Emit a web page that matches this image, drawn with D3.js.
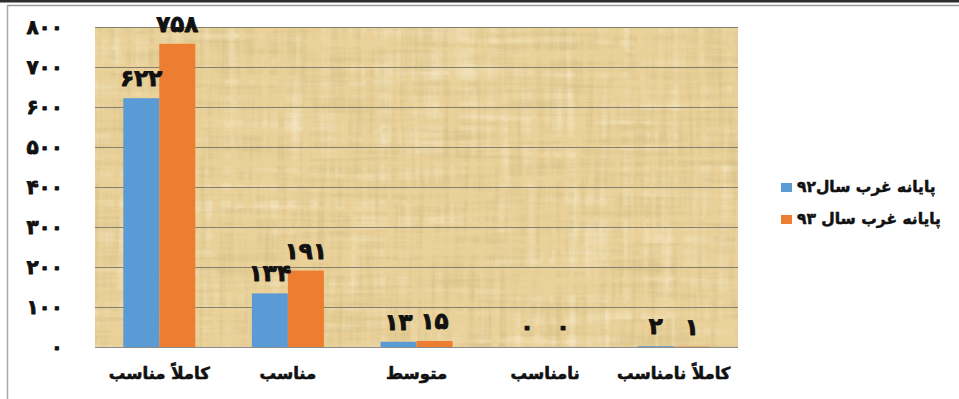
<!DOCTYPE html>
<html lang="fa">
<head>
<meta charset="utf-8">
<script src="https://cdn.jsdelivr.net/npm/d3@7/dist/d3.min.js"></script>
<style>
  html, body { margin: 0; padding: 0; background: #ffffff; }
  svg { display: block; }
  text { font-family: "DejaVu Sans", sans-serif; font-weight: bold; fill: #111; stroke: #111; stroke-linejoin: round; }
</style>
</head>
<body>
<svg id="chart" width="959" height="399"></svg>
<script>
// Categories (left to right) and the two series
const categories = ["کاملاً مناسب", "مناسب", "متوسط", "نامناسب", "کاملاً نامناسب"];
const seriesNames = ["پایانه غرب سال۹۲", "پایانه غرب سال ۹۳"];
const values92 = [622, 134, 13, 0, 2];
const values93 = [758, 191, 15, 0, 1];
const tickValues = [0, 100, 200, 300, 400, 500, 600, 700, 800];
const tickLabels = ["۰", "۱۰۰", "۲۰۰", "۳۰۰", "۴۰۰", "۵۰۰", "۶۰۰", "۷۰۰", "۸۰۰"];
const seriesColors = ["#5b9bd5", "#ed7d31"];

const toPersian = n => String(n).replace(/\d/g, d => "۰۱۲۳۴۵۶۷۸۹"[+d]);

const svg = d3.select("#chart");
const plot = { left: 95, right: 738, top: 27, bottom: 347 };

// Papyrus-like texture for the plot area: crossing fibre strips
const defs = svg.append("defs");
const f = defs.append("filter").attr("id", "papyrus")
  .attr("x", 0).attr("y", 0).attr("width", "100%").attr("height", "100%");
f.append("feTurbulence").attr("type", "fractalNoise")
  .attr("baseFrequency", "0.01 0.18").attr("numOctaves", 3).attr("seed", 4).attr("result", "h");
f.append("feTurbulence").attr("type", "fractalNoise")
  .attr("baseFrequency", "0.16 0.01").attr("numOctaves", 3).attr("seed", 9).attr("result", "v");
f.append("feComposite").attr("in", "h").attr("in2", "v")
  .attr("operator", "arithmetic").attr("k2", 0.5).attr("k3", 0.5).attr("result", "n");
f.append("feColorMatrix").attr("in", "n").attr("type", "matrix")
  .attr("values", "0 0 0 0 0.6  0 0 0 0 0.47  0 0 0 0 0.2  2.6 0 0 0 -1.15");
// lighter fibre strips
const g2 = defs.append("filter").attr("id", "papyrusLight")
  .attr("x", 0).attr("y", 0).attr("width", "100%").attr("height", "100%");
g2.append("feTurbulence").attr("type", "fractalNoise")
  .attr("baseFrequency", "0.006 0.09").attr("numOctaves", 2).attr("seed", 21).attr("result", "a");
g2.append("feTurbulence").attr("type", "fractalNoise")
  .attr("baseFrequency", "0.09 0.006").attr("numOctaves", 2).attr("seed", 33).attr("result", "b");
g2.append("feComposite").attr("in", "a").attr("in2", "b")
  .attr("operator", "arithmetic").attr("k2", 0.5).attr("k3", 0.5).attr("result", "m");
g2.append("feColorMatrix").attr("in", "m").attr("type", "matrix")
  .attr("values", "0 0 0 0 0.98  0 0 0 0 0.9  0 0 0 0 0.74  3.4 0 0 0 -1.7");

// Page frame
svg.append("line").attr("x1", 0).attr("x2", 959).attr("y1", 1).attr("y2", 1)
  .attr("stroke", "#2e2e2e").attr("stroke-width", 3);
svg.append("line").attr("x1", 7).attr("x2", 959).attr("y1", 5.5).attr("y2", 5.5)
  .attr("stroke", "#9a9a9a").attr("stroke-width", 1.5);
svg.append("line").attr("x1", 7.5).attr("x2", 7.5).attr("y1", 5).attr("y2", 399)
  .attr("stroke", "#a8a8a8").attr("stroke-width", 1.5);

// Scales
const x0 = d3.scaleBand().domain(categories).range([plot.left, plot.right]).padding(0);
const x1 = d3.scaleBand().domain(seriesNames).range([0, x0.bandwidth()])
  .paddingInner(0).paddingOuter(0.786);
const y = d3.scaleLinear().domain([0, 800]).range([plot.bottom, plot.top]);

// Plot background
const bg = () => svg.append("rect").attr("x", plot.left).attr("y", plot.top)
  .attr("width", plot.right - plot.left).attr("height", plot.bottom - plot.top);
bg().attr("fill", "#e9d199");
bg().attr("filter", "url(#papyrusLight)").attr("opacity", 0.55);
bg().attr("filter", "url(#papyrus)").attr("opacity", 0.6);

// Gridlines
svg.append("g").selectAll("line").data(tickValues).join("line")
  .attr("x1", plot.left).attr("x2", plot.right)
  .attr("y1", d => Math.round(y(d)) + 0.5).attr("y2", d => Math.round(y(d)) + 0.5)
  .attr("stroke", d => d === 0 ? "#8c8c8c" : "#857e6c").attr("stroke-width", 1);

// Y axis labels
const yAxis = d3.axisLeft(y).tickValues(tickValues)
  .tickFormat((d, i) => tickLabels[i]).tickSize(0).tickPadding(0);
const gy = svg.append("g").attr("transform", "translate(63,0)").call(yAxis);
gy.select(".domain").remove();
gy.selectAll("text").attr("font-size", 20).attr("font-family", "DejaVu Sans")
  .attr("font-weight", "bold").attr("fill", "#111").attr("stroke", "#111").attr("stroke-width", 0.8);

// X axis labels
const xAxis = d3.axisBottom(x0).tickSize(0).tickPadding(0);
const gx = svg.append("g").attr("transform", "translate(0,367)").call(xAxis);
gx.select(".domain").remove();
gx.selectAll("text").attr("font-size", 16.5).attr("font-family", "DejaVu Sans")
  .attr("font-weight", "bold").attr("fill", "#111").attr("stroke", "#111").attr("stroke-width", 0.6);

// Bars and value labels
const rows = categories.map((c, i) => ({ cat: c, vals: [values92[i], values93[i]] }));
const groups = svg.append("g").selectAll("g").data(rows).join("g")
  .attr("transform", d => `translate(${x0(d.cat)},0)`);
groups.selectAll("rect").data(d => d.vals.map((v, j) => ({ s: seriesNames[j], v, j })))
  .join("rect")
  .attr("x", d => x1(d.s)).attr("width", x1.bandwidth())
  .attr("y", d => y(d.v)).attr("height", d => y(0) - y(d.v))
  .attr("fill", d => seriesColors[d.j]);
groups.selectAll("text.val").data(d => d.vals.map((v, j) => ({ s: seriesNames[j], v, j })))
  .join("text").attr("class", "val")
  .attr("x", d => x1(d.s) + x1.bandwidth() / 2)
  .attr("y", d => y(d.v) - 12)
  .attr("text-anchor", "middle").attr("font-size", 23).attr("stroke-width", 0.9)
  .text(d => toPersian(d.v));

// Legend
const legend = svg.append("g");
seriesNames.forEach((name, i) => {
  const ly = 183 + i * 32;
  legend.append("rect").attr("x", 781).attr("y", ly).attr("width", 11).attr("height", 9)
    .attr("fill", seriesColors[i]);
  legend.append("text").attr("x", 797).attr("y", ly + 9).attr("font-size", 15.5)
    .attr("stroke-width", 0.5).text(name);
});
</script>
</body>
</html>
